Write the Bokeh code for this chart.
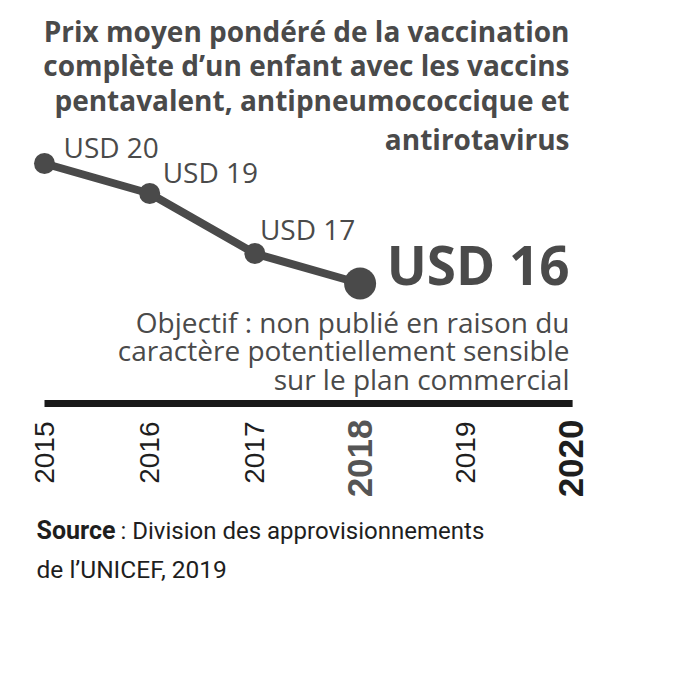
import math
from bokeh.plotting import figure
from bokeh.models import Range1d, Label
from bokeh.embed import file_html
from bokeh.resources import INLINE

# ---- data ----
years = [2015, 2016, 2017, 2018]
prices = [20, 19, 17, 16]
axis_years = [2015, 2016, 2017, 2018, 2019, 2020]
axis_labels = ["2015", "2016", "2017", "2018", "2019", "2020"]
title_lines = [
    "Prix moyen pondéré de la vaccination",
    "complète d\u2019un enfant avec les vaccins",
    "pentavalent, antipneumococcique et",
    "antirotavirus",
]
target_lines = [
    "Objectif : non publié en raison du",
    "caractère potentiellement sensible",
    "sur le plan commercial",
]
source_bold = "Source"
source_rest = "\u00a0: Division des approvisionnements"
source_line2 = "de l\u2019UNICEF, 2019"
axis_base = 12

# ---- layout mapping (pixels) ----
W, H = 684, 684
PX_YEAR = 105.2
PX_UNIT = 30.0
X0 = 2015 - 44 / PX_YEAR
Y_TOP = 16 + 283 / PX_UNIT


def sx(px):
    return X0 + px / PX_YEAR


def sy(py):
    return Y_TOP - py / PX_UNIT


p = figure(width=W, height=H, output_backend="svg", toolbar_location=None,
           x_range=Range1d(X0, X0 + W / PX_YEAR),
           y_range=Range1d(Y_TOP - H / PX_UNIT, Y_TOP),
           min_border=0)
p.axis.visible = False
p.grid.visible = False
p.outline_line_color = None
p.background_fill_color = "white"
p.border_fill_color = "white"

DARK = "#4a4a4a"

# axis baseline
p.segment(x0=[axis_years[0]], y0=[axis_base], x1=[axis_years[-1] + 0.02], y1=[axis_base],
          line_width=7, line_color="#1a1a1a", line_cap="butt")

# line + points
p.line(years, prices, line_width=8, line_color=DARK)
p.scatter(years[:-1], prices[:-1], size=21, fill_color=DARK, line_color=None)
p.scatter(years[-1:], prices[-1:], size=32, fill_color=DARK, line_color=None)

# value labels (offsets in screen px, positive = up)
offs = [(19, 17), (13, 22), (5, 25)]
for x, v, (dx, dy) in zip(years[:-1], prices[:-1], offs):
    p.add_layout(Label(x=x, y=v, x_offset=dx, y_offset=dy, text=f"USD {v}",
                       text_font="Open Sans", text_font_size="28px",
                       text_color=DARK, text_align="left", text_baseline="alphabetic"))

p.add_layout(Label(x=sx(569), y=prices[-1], y_offset=19, text=f"USD {prices[-1]}",
                   text_font="Open Sans", text_font_style="bold", text_font_size="53px",
                   text_color=DARK, text_align="right", text_baseline="alphabetic"))

# title
title_y = [30, 64.5, 99, 138]
for t, ty in zip(title_lines, title_y):
    p.add_layout(Label(x=sx(569), y=sy(ty), text=t,
                       text_font="Open Sans", text_font_style="bold", text_font_size="28px",
                       text_color=DARK, text_align="right", text_baseline="alphabetic"))

# target text
for i, t in enumerate(target_lines):
    p.add_layout(Label(x=sx(569), y=sy(321 + i * 28.8), text=t,
                       text_font="Open Sans", text_font_size="28px",
                       text_color=DARK, text_align="right", text_baseline="alphabetic"))

# year labels
for yr, lab in zip(axis_years, axis_labels):
    bold = lab in ("2018", "2020")
    col = "#555555" if lab == "2018" else "#1e1e1e"
    p.add_layout(Label(x=yr, y=axis_base, y_offset=-(16 if bold else 18), text=lab,
                       angle=math.pi / 2,
                       text_font="Liberation Sans", text_font_style="bold" if bold else "normal",
                       text_font_size="35px" if bold else "28px",
                       text_color=col, text_align="right", text_baseline="middle"))

# source
SRC_FONT = "Roboto"
p.add_layout(Label(x=sx(36), y=sy(530), text=source_bold,
                   text_font=SRC_FONT, text_font_style="bold", text_font_size="25px",
                   text_color="#1e1e1e", text_align="left", text_baseline="alphabetic"))
p.add_layout(Label(x=sx(114), y=sy(530), text=source_rest,
                   text_font=SRC_FONT, text_font_size="24px",
                   text_color="#1e1e1e", text_align="left", text_baseline="alphabetic"))
p.add_layout(Label(x=sx(36), y=sy(569), text=source_line2,
                   text_font=SRC_FONT, text_font_size="24.5px",
                   text_color="#1e1e1e", text_align="left", text_baseline="alphabetic"))

open("out.html", "w").write(file_html(p, INLINE))
